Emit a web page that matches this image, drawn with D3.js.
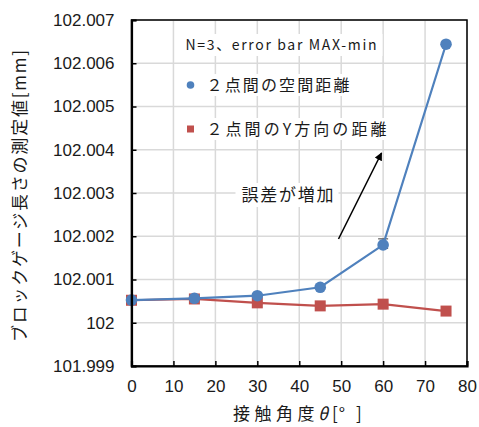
<!DOCTYPE html>
<html>
<head>
<meta charset="utf-8">
<script src="https://cdn.jsdelivr.net/npm/d3@7"></script>
<style>
  body { margin: 0; background: #fff; }
  svg { display: block; }
</style>
</head>
<body>
<div id="chart"></div>
<script>
'use strict';

// data
const angles = [0, 15, 30, 45, 60, 75];
const spatialDist = [102.000525, 102.000565, 102.000625, 102.00082, 102.0018, 102.00644];
// MAX-min bars: distance above / below the mean
const spatialErrUp = [0.00003, 0.00003, 0.00003, 0.00004, 0.00014, 0.00005];
const spatialErrDown = [0.00003, 0.00003, 0.00003, 0.00004, 0.00008, 0.00005];
const yDirDist = [102.00052, 102.00055, 102.00046, 102.00039, 102.00043, 102.00027];
const yDirErrUp = [0.00002, 0.00002, 0.00003, 0.00003, 0.00003, 0.00002];
const yDirErrDown = [0.00002, 0.00002, 0.00003, 0.00003, 0.00003, 0.00002];
const xTicks = [0, 10, 20, 30, 40, 50, 60, 70, 80];
const yTicks = [101.999, 102, 102.001, 102.002, 102.003, 102.004, 102.005, 102.006, 102.007];

const seriesNames = ['２点間の空間距離', '２点間のY方向の距離'];
const legendTitle = 'N=3、error bar MAX-min';
const note = '誤差が増加';

const Color = {
  Blue: '#4f81bd',
  Red: '#c0504d',
  Grid: '#d9d9d9',
  Text: '#1a1a1a',
};

const W = 479, H = 427;
const margin = {top: 20, right: 12, bottom: 61, left: 131.5};
const width = W - margin.left - margin.right,
    height = H - margin.top - margin.bottom;

const svg = d3.select('#chart')
  .append('svg')
    .attr('width', W)
    .attr('height', H);

const g = svg.append('g')
  .attr('transform', `translate(${margin.left},${margin.top})`);

const x = d3.scaleLinear().domain([0, 80]).range([0, width]);
const y = d3.scaleLinear().domain([101.999, 102.007]).range([height, 0]);

// grid
g.append('g').selectAll('line')
  .data(xTicks)
  .enter().append('line')
    .attr('x1', d => x(d)).attr('x2', d => x(d))
    .attr('y1', 0).attr('y2', height)
    .attr('stroke', Color.Grid).attr('stroke-width', 1.5);
g.append('g').selectAll('line')
  .data(yTicks)
  .enter().append('line')
    .attr('x1', 0).attr('x2', width)
    .attr('y1', d => y(d)).attr('y2', d => y(d))
    .attr('stroke', Color.Grid).attr('stroke-width', 1.5);

// legend rows (white boxes behind text, grid shows between)
const legend = g.append('g');
const legendRows = [
  {text: legendTitle, cy: 25, tx: 54, len: 191, size: 14},
  {text: seriesNames[0], cy: 65, tx: 75, len: 143, size: 16, mark: 'circle', color: Color.Blue},
  {text: seriesNames[1], cy: 109, tx: 75, len: 180, size: 16, mark: 'rect', color: Color.Red},
];
legendRows.forEach(r => {
  legend.append('rect')
    .attr('x', r.tx - 6).attr('y', r.cy - 11)
    .attr('width', r.len + 12).attr('height', 22)
    .attr('fill', '#fff');
  legend.append('text')
    .attr('x', r.tx).attr('y', r.cy)
    .attr('dy', '0.36em')
    .attr('textLength', r.len)
    .attr('lengthAdjust', 'spacing')
    .style('font-family', '"Noto Sans CJK JP", sans-serif')
    .style('font-size', r.size + 'px')
    .attr('fill', Color.Text)
    .text(r.text);
  if (r.mark === 'circle') {
    legend.append('circle').attr('cx', 59).attr('cy', r.cy).attr('r', 3.8).attr('fill', r.color);
  } else if (r.mark === 'rect') {
    legend.append('rect').attr('x', 55.5).attr('y', r.cy - 3.5).attr('width', 7).attr('height', 7).attr('fill', r.color);
  }
});

// annotation
g.append('rect')
  .attr('x', 104).attr('y', 163).attr('width', 103).attr('height', 24)
  .attr('fill', '#fff');
g.append('text')
  .attr('x', 110).attr('y', 175)
  .attr('dy', '0.36em')
  .attr('textLength', 92)
  .attr('lengthAdjust', 'spacing')
  .style('font-family', '"Noto Sans CJK JP", sans-serif')
  .style('font-size', '17px')
  .attr('fill', Color.Text)
  .text(note);

svg.append('defs').append('marker')
  .attr('id', 'arrow')
  .attr('viewBox', '0 0 10 10')
  .attr('refX', 9).attr('refY', 5)
  .attr('markerWidth', 8).attr('markerHeight', 8)
  .attr('markerUnits', 'userSpaceOnUse')
  .attr('orient', 'auto')
  .append('path')
    .attr('d', 'M0,0 L10,5 L0,10 z')
    .attr('fill', '#000');
g.append('line')
  .attr('x1', 207).attr('y1', 219)
  .attr('x2', 250).attr('y2', 133)
  .attr('stroke', '#000').attr('stroke-width', 1.5)
  .attr('marker-end', 'url(#arrow)');

// series
const series = [
  {values: spatialDist, up: spatialErrUp, down: spatialErrDown, color: Color.Blue, mark: 'circle'},
  {values: yDirDist, up: yDirErrUp, down: yDirErrDown, color: Color.Red, mark: 'rect'},
];
const line = d3.line()
  .x((d, i) => x(angles[i]))
  .y(d => y(d));

// draw red first so blue is on top
series.slice().reverse().forEach(s => {
  const pts = s.values.map((v, i) => ({a: angles[i], v, hi: v + s.up[i], lo: v - s.down[i]}));
  // error bars
  const eb = g.append('g').attr('stroke', '#595959').attr('stroke-width', 1.2);
  eb.selectAll('line.v').data(pts).enter().append('line')
    .attr('class', 'v')
    .attr('x1', d => x(d.a)).attr('x2', d => x(d.a))
    .attr('y1', d => y(d.lo)).attr('y2', d => y(d.hi));
  eb.selectAll('line.t').data(pts).enter().append('line')
    .attr('class', 't')
    .attr('x1', d => x(d.a) - 5).attr('x2', d => x(d.a) + 5)
    .attr('y1', d => y(d.hi)).attr('y2', d => y(d.hi));
  eb.selectAll('line.b').data(pts).enter().append('line')
    .attr('class', 'b')
    .attr('x1', d => x(d.a) - 5).attr('x2', d => x(d.a) + 5)
    .attr('y1', d => y(d.lo)).attr('y2', d => y(d.lo));

  g.append('path')
    .datum(s.values)
    .attr('d', line)
    .attr('fill', 'none')
    .attr('stroke', s.color)
    .attr('stroke-width', 2.2);

  const mg = g.append('g').attr('fill', s.color);
  if (s.mark === 'circle') {
    mg.selectAll('circle')
      .data(pts).enter().append('circle')
        .attr('cx', d => x(d.a)).attr('cy', d => y(d.v))
        .attr('r', 5.8);
  } else {
    mg.selectAll('rect')
      .data(pts).enter().append('rect')
        .attr('x', d => x(d.a) - 5.5).attr('y', d => y(d.v) - 5.5)
        .attr('width', 11).attr('height', 11);
  }
});

// frame
g.append('rect')
  .attr('width', width).attr('height', height)
  .attr('fill', 'none').attr('stroke', '#000').attr('stroke-width', 1.5);

// axes
const fmt = d => String(+d.toFixed(3));
const yAxis = g.append('g')
  .call(d3.axisLeft(y).tickValues(yTicks).tickFormat(fmt).tickSize(-5).tickPadding(17));
const xAxis = g.append('g')
  .attr('transform', `translate(0,${height})`)
  .call(d3.axisBottom(x).tickValues(xTicks).tickFormat(d3.format('d')).tickSize(-5).tickPadding(14));
[yAxis, xAxis].forEach(a => {
  a.select('.domain').attr('stroke', '#000').attr('stroke-width', 2.2);
  a.selectAll('.tick line').attr('stroke', '#000').attr('stroke-width', 1.5);
  a.selectAll('.tick text')
    .style('font-family', '"Liberation Sans", Arial, sans-serif')
    .style('font-size', '17px')
    .attr('fill', Color.Text);
});

// axis titles
svg.append('text')
  .attr('x', 233).attr('y', 414)
  .attr('dy', '0.36em')
  .style('font-family', '"Noto Sans CJK JP", sans-serif')
  .style('font-size', '17px')
  .attr('fill', Color.Text)
  .html('<tspan letter-spacing="4.5">接触角度</tspan><tspan font-style="italic" dx="-1">θ</tspan><tspan dx="4">[</tspan><tspan dx="1">°</tspan><tspan dx="11">]</tspan>');

svg.append('text')
  .attr('transform', 'translate(20,196) rotate(-90)')
  .attr('text-anchor', 'middle')
  .attr('dy', '0.36em')
  .attr('textLength', 292)
  .attr('lengthAdjust', 'spacing')
  .style('font-family', '"Noto Sans CJK JP", sans-serif')
  .style('font-size', '17px')
  .attr('fill', Color.Text)
  .text('ブロックゲージ長さの測定値[mm]');
</script>
</body>
</html>
